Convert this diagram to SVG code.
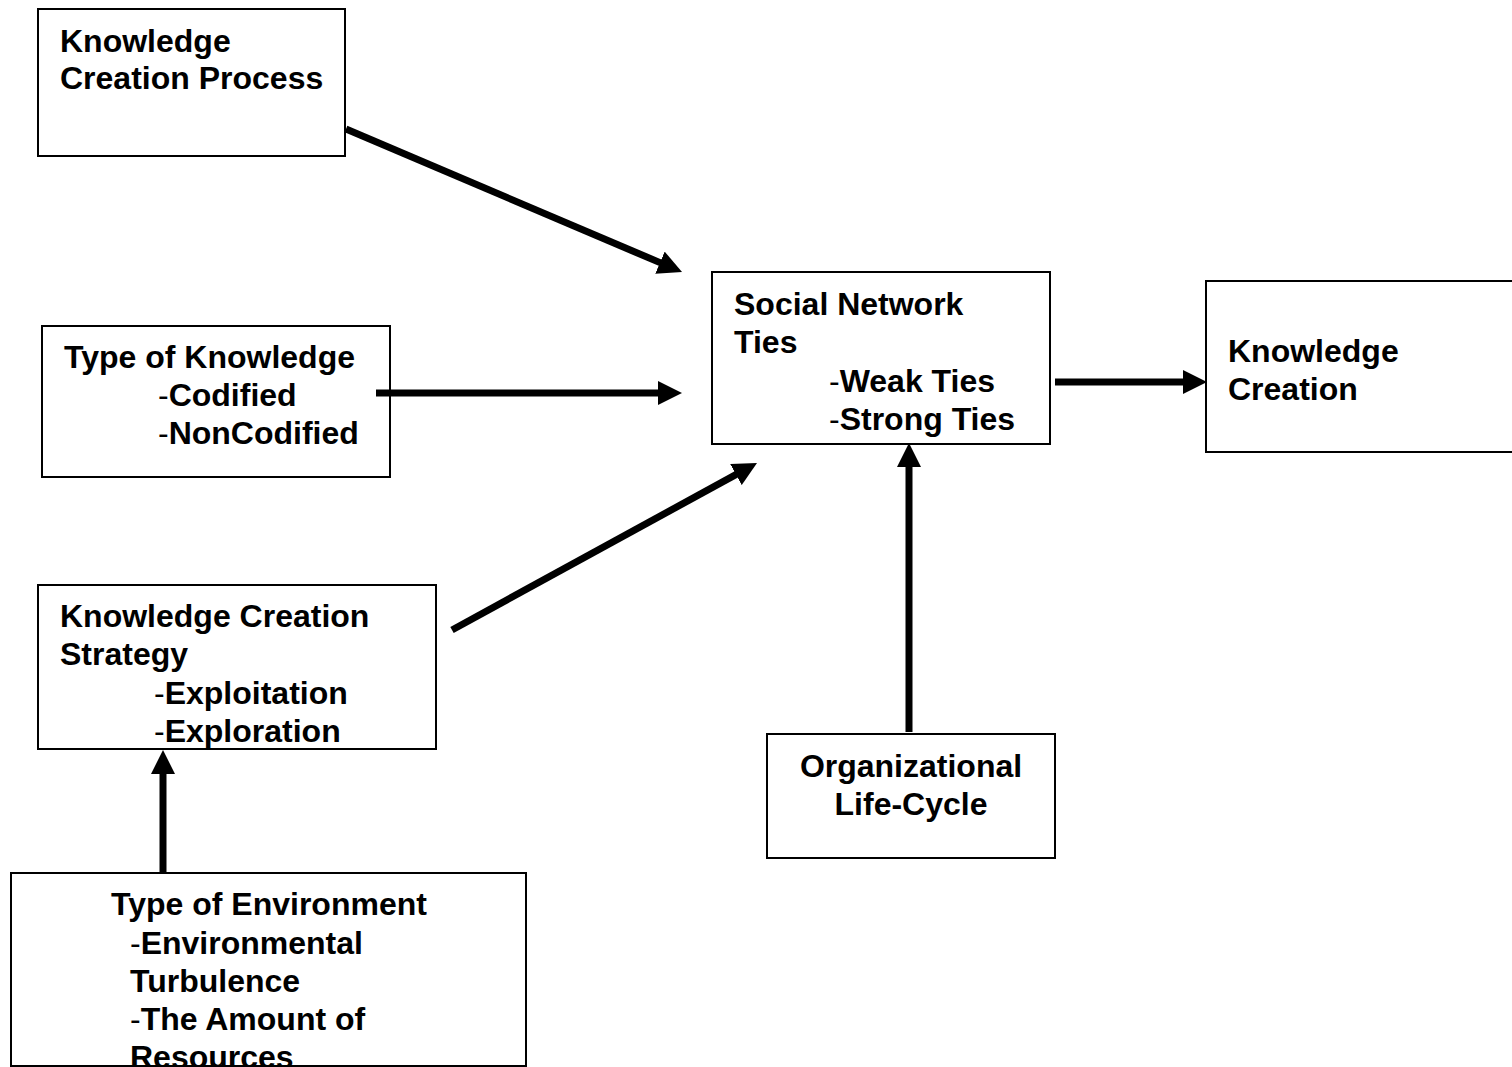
<svg xmlns="http://www.w3.org/2000/svg" width="1512" height="1067" viewBox="0 0 1512 1067">
<style>
.box{fill:#fff;stroke:#000;stroke-width:2}
.t{font-family:"Liberation Sans",Arial,sans-serif;font-size:32px;font-weight:bold;fill:#000}
.n{font-weight:normal}
.c{fill:none;stroke:#000;stroke-width:7}
</style>
<defs>
<marker id="ah" markerUnits="userSpaceOnUse" markerWidth="24" markerHeight="24" viewBox="0 0 24 24" refX="2" refY="12" orient="auto">
<path d="M0,0 L24,12 L0,24 z" fill="#000"/>
</marker>
</defs>
<rect width="1512" height="1067" fill="#fff"/>
<g id="n-kcp">
<rect class="box" x="38" y="9" width="307" height="147"/>
<text class="t" x="60" y="52">Knowledge</text>
<text class="t" x="60" y="89">Creation Process</text>
</g>
<g id="n-tok">
<rect class="box" x="42" y="326" width="348" height="151"/>
<text class="t" x="64" y="368">Type of Knowledge</text>
<text class="t" x="158" y="406"><tspan class="n">-</tspan>Codified</text>
<text class="t" x="158" y="444"><tspan class="n">-</tspan>NonCodified</text>
</g>
<g id="n-snt">
<rect class="box" x="712" y="272" width="338" height="172"/>
<text class="t" x="734" y="315">Social Network</text>
<text class="t" x="734" y="353">Ties</text>
<text class="t" x="829" y="392"><tspan class="n">-</tspan>Weak Ties</text>
<text class="t" x="829" y="430"><tspan class="n">-</tspan>Strong Ties</text>
</g>
<g id="n-kc">
<rect class="box" x="1206" y="281" width="320" height="171"/>
<text class="t" x="1228" y="362">Knowledge</text>
<text class="t" x="1228" y="400">Creation</text>
</g>
<g id="n-kcs">
<rect class="box" x="38" y="585" width="398" height="164"/>
<text class="t" x="60" y="627">Knowledge Creation</text>
<text class="t" x="60" y="665">Strategy</text>
<text class="t" x="154" y="704"><tspan class="n">-</tspan>Exploitation</text>
<text class="t" x="154" y="742"><tspan class="n">-</tspan>Exploration</text>
</g>
<g id="n-olc">
<rect class="box" x="767" y="734" width="288" height="124"/>
<text class="t" x="911" y="777" text-anchor="middle">Organizational</text>
<text class="t" x="911" y="815" text-anchor="middle">Life-Cycle</text>
</g>
<g id="n-toe">
<rect class="box" x="11" y="873" width="515" height="193"/>
<text class="t" x="111" y="915">Type of Environment</text>
<text class="t" x="130" y="954"><tspan class="n">-</tspan>Environmental</text>
<text class="t" x="130" y="992">Turbulence</text>
<text class="t" x="130" y="1030"><tspan class="n">-</tspan>The Amount of</text>
<text class="t" x="130" y="1068">Resources</text>
</g>
<g id="connectors">
<line class="c" x1="346" y1="129" x2="661.8" y2="263.4" marker-end="url(#ah)"/>
<line class="c" x1="376" y1="393" x2="660" y2="393" marker-end="url(#ah)"/>
<line class="c" x1="452" y1="630" x2="737.7" y2="473.6" marker-end="url(#ah)"/>
<line class="c" x1="909" y1="732" x2="909" y2="465" marker-end="url(#ah)"/>
<line class="c" x1="163" y1="873" x2="163" y2="772" marker-end="url(#ah)"/>
<line class="c" x1="1055" y1="382" x2="1185" y2="382" marker-end="url(#ah)"/>
</g>
</svg>
